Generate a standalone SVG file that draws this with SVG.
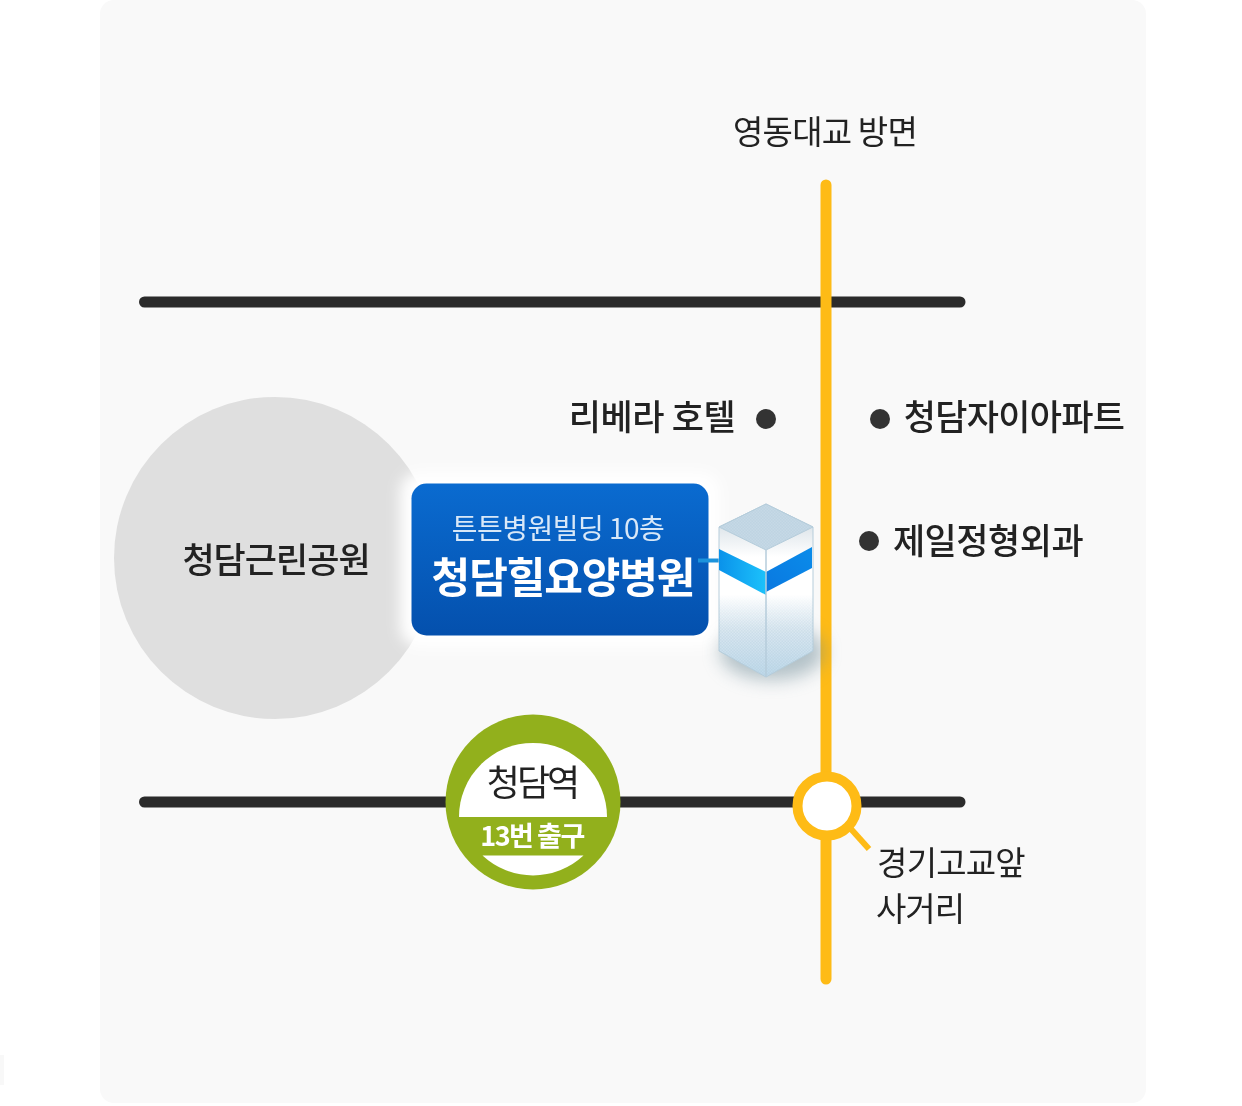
<svg xmlns="http://www.w3.org/2000/svg" width="1242" height="1106" viewBox="0 0 1242 1106">
<style>
text{font-family:"Noto Sans CJK KR","Noto Sans",sans-serif;text-anchor:middle}
.d{fill:#222}
.road{stroke:#2b2b2b;stroke-width:11;stroke-linecap:round;fill:none}
.ylw{stroke:#febb16;fill:none}
.dot{fill:#333}
</style>
<defs>
<linearGradient id="blue" x1="0" y1="0" x2="0" y2="1"><stop offset="0" stop-color="#0a6bd0"/><stop offset="1" stop-color="#0450ad"/></linearGradient>
<linearGradient id="face" gradientUnits="userSpaceOnUse" x1="0" y1="527" x2="0" y2="677"><stop offset="0" stop-color="#dfe6eb"/><stop offset=".2" stop-color="#fff"/><stop offset=".45" stop-color="#fff"/><stop offset=".68" stop-color="#dbe8f1"/><stop offset="1" stop-color="#bdd8ea"/></linearGradient>
<linearGradient id="bandL" x1="0" y1="0" x2="1" y2="0"><stop offset="0" stop-color="#0a92ea"/><stop offset="1" stop-color="#1cc2fb"/></linearGradient>
<linearGradient id="bandR" x1="0" y1="1" x2="1" y2="0"><stop offset="0" stop-color="#0a78e0"/><stop offset="1" stop-color="#0a8cea"/></linearGradient>
<linearGradient id="fade" gradientUnits="userSpaceOnUse" x1="0" y1="595" x2="0" y2="635"><stop offset="0" stop-color="#000"/><stop offset="1" stop-color="#fff"/></linearGradient>
<mask id="fadeMask" maskUnits="userSpaceOnUse" x="710" y="590" width="110" height="95"><rect x="710" y="590" width="110" height="95" fill="url(#fade)"/></mask>
<pattern id="dither" width="3" height="3" patternUnits="userSpaceOnUse"><rect width="1.500" height="1.500" fill="#a9c3d6" opacity=".28"/><rect x="1.500" y="1.500" width="1.500" height="1.500" fill="#a9c3d6" opacity=".28"/></pattern>
<filter id="glow" x="-20%" y="-30%" width="140%" height="160%"><feGaussianBlur stdDeviation="7"/></filter>
<filter id="shadow" x="-40%" y="-40%" width="180%" height="180%"><feGaussianBlur stdDeviation="9"/></filter>
<filter id="soft" x="-5%" y="-20%" width="110%" height="140%"><feGaussianBlur stdDeviation=".4"/></filter>
</defs>
<rect width="1242" height="1106" fill="#fff"/>
<rect x="0" y="1055" width="4" height="30" fill="#f8f8f8"/>
<rect id="panel" x="100" y="0" width="1046" height="1103" rx="14" fill="#f9f9f9"/>
<g id="connectors">
<path class="road" d="M144.500 302H960"/>
<path class="road" d="M144.500 802H960"/>
<path class="ylw" stroke-width="11" stroke-linecap="round" d="M826 185V979"/>
<path class="ylw" stroke-width="6" d="M851 829L869 849"/>
</g>
<g id="park"><circle cx="275" cy="558" r="161" fill="#dfdfdf"/><text x="276" y="573" font-size="35" font-weight="500" letter-spacing="-1" class="d" filter="url(#soft)">청담근린공원</text></g>
<g id="hospital">
<rect x="400" y="472" width="320" height="175" rx="20" fill="#fff" filter="url(#glow)"/>
<rect x="411.500" y="483.500" width="297" height="152" rx="15" fill="url(#blue)"/>
<text x="558" y="539" font-size="28" letter-spacing="-.5" fill="#d8e8f8" filter="url(#soft)">튼튼병원빌딩 10층</text>
<text x="563" y="593" font-size="42" font-weight="700" letter-spacing="-1.100" fill="#fff" filter="url(#soft)">청담힐요양병원</text>
<path d="M698 560.500H722" stroke="#1c93dc" stroke-width="4"/>
</g>
<g id="building">
<ellipse cx="772" cy="652" rx="52" ry="28" fill="#6d8a96" opacity=".5" filter="url(#shadow)"/>
<path d="M719 527L766 504L813 527V651L766 677L719 651Z" fill="url(#face)" stroke="#b6cddb" stroke-width="1"/>
<path d="M719 595H813V651L766 677L719 651Z" fill="url(#dither)" mask="url(#fadeMask)"/>
<path d="M719 527L766 504L813 527L766 550Z" fill="#c6d9e6" stroke="#b6cddb" stroke-width="1"/>
<path d="M719 527L766 504L813 527L766 550Z" fill="url(#dither)"/>
<path d="M719 549L766 572V595L719 570Z" fill="url(#bandL)"/>
<path d="M766 572L812 547V568L766 592Z" fill="url(#bandR)"/>
<path d="M766 550V677" stroke="#b6cddb" stroke-width="1.500"/>
</g>
<g id="station">
<circle cx="533" cy="802" r="87.500" fill="#92b01c"/>
<path d="M459 817A74 74 0 1 1 607 817Z" fill="#fff"/>
<path d="M482.500 855.500H583.500A74 74 0 0 1 482.500 855.500Z" fill="#fff"/>
<text x="532" y="796" font-size="36" letter-spacing="-3" fill="#222" filter="url(#soft)">청담역</text>
<text x="532" y="846" font-size="27" font-weight="700" letter-spacing="-1.500" fill="#fff" filter="url(#soft)">13번 출구</text>
</g>
<g id="junction"><circle cx="827" cy="806" r="29.500" fill="#fff" stroke="#febb16" stroke-width="10"/>
<text x="951" y="875" font-size="33" letter-spacing="-.8" class="d" filter="url(#soft)">경기고교앞</text>
<text x="920" y="921" font-size="33" letter-spacing="-1" class="d" filter="url(#soft)">사거리</text></g>
<text id="bridge" x="825" y="144" font-size="33" letter-spacing="-.8" class="d" filter="url(#soft)">영동대교 방면</text>
<g id="riviera"><text x="652" y="430" font-size="35" font-weight="500" letter-spacing="-.4" class="d" filter="url(#soft)">리베라 호텔</text><circle class="dot" cx="766" cy="419" r="10"/></g>
<g id="xi"><circle class="dot" cx="880" cy="419" r="10"/><text x="1014" y="430" font-size="35" font-weight="500" letter-spacing="-.7" class="d" filter="url(#soft)">청담자이아파트</text></g>
<g id="jeil"><circle class="dot" cx="869" cy="541" r="10"/><text x="988" y="554" font-size="35" font-weight="500" letter-spacing="-.5" class="d" filter="url(#soft)">제일정형외과</text></g>
</svg>
